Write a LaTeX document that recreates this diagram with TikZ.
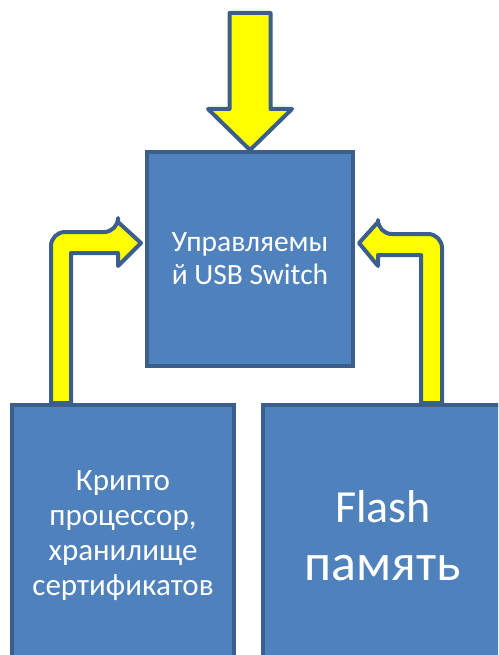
\documentclass[tikz,border=0pt]{standalone}
\usepackage{fontspec}
\setmainfont{Carlito}
\usepackage{tikz}
\usetikzlibrary{calc,positioning,backgrounds}
\definecolor{boxblue}{HTML}{4F81BD}
\definecolor{boxborder}{HTML}{3B5E8C}
\definecolor{arrowyellow}{HTML}{FFFF00}
\tikzset{
	block/.style={draw=boxborder, fill=boxblue, line width=4pt, text=white, align=center, inner sep=0pt},
	fatarrow/.style={draw=boxborder, fill=arrowyellow, line width=4pt, line join=round},
}

\begin{document}
\begin{tikzpicture}[x=1pt, y=-1pt]
		\useasboundingbox (0,0) rectangle (498,655);
		\clip (0,0) rectangle (498,655);
		\node[block, minimum width=206pt, minimum height=214pt, font=\fontsize{29.5}{33}\selectfont] (sw) at (250,259) {Управляемы\\й USB Switch};
		\node[block, minimum width=222pt, minimum height=262pt, font=\fontsize{31}{35}\selectfont] (crypto) at (123,536) {Крипто\\процессор,\\хранилище\\сертификатов};
		\node[block, minimum width=240pt, minimum height=262pt, font=\fontsize{46}{58}\selectfont] (flash) at (383,536) {Flash\\{\fontsize{52}{58}\selectfont память}};
		\begin{scope}[on background layer]
			% input from the top
			\draw[fatarrow] (sw.north) -- ++(-42,-41) -- ++(21.5,0) -- ++(0,-96) -- ++(41,0) -- ++(0,96) -- ++(21.5,0) -- cycle;
			% crypto -> switch
			\coordinate (la) at ($(crypto.north west)+(41,0)$);
			\coordinate (lb) at ($(crypto.north west)+(61,0)$);
			\draw[fatarrow] (la) [rounded corners=14pt] |- ($(sw.west)+(-27,-27)$) [sharp corners] -- ++(0,-10) -- ($(sw.west)+(-4,-16)$) -- ($(sw.west)+(-27,7)$) -- ++(0,-13) -- (lb |- {$(sw.west)+(0,-6)$}) -- (lb) -- cycle;
			% flash -> switch
			\coordinate (ra) at ($(flash.north west)+(181,0)$);
			\coordinate (rb) at ($(flash.north west)+(160,0)$);
			\draw[fatarrow] (ra) [rounded corners=14pt] |- ($(sw.east)+(23,-25)$) [sharp corners] -- ++(0,-12) -- ($(sw.east)+(4,-16)$) -- ($(sw.east)+(23,7)$) -- ++(0,-11) -- (rb |- {$(sw.east)+(0,-4)$}) -- (rb) -- cycle;
		\end{scope}
	\end{tikzpicture}
\end{document}
